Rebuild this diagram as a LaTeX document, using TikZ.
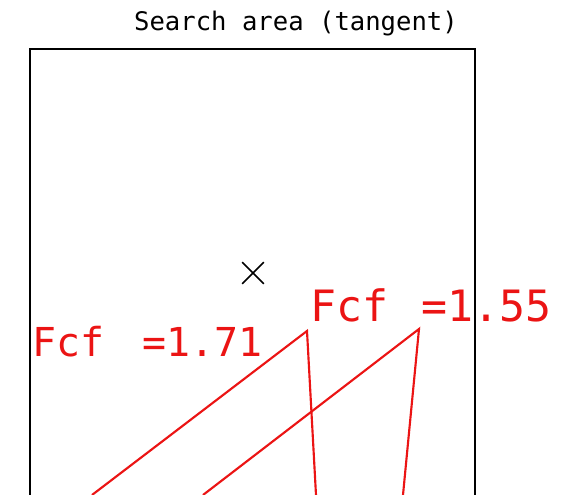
\documentclass[tikz,border=0pt]{standalone}
\usepackage{fontspec}
\newfontfamily\plotfont{DejaVu Sans Mono}
\usetikzlibrary{shapes.misc}
\definecolor{plotred}{RGB}{235,20,20}
\begin{document}
\begin{tikzpicture}[x=0.75pt,y=-0.75pt,
  frame/.style={draw=black,line width=1.5pt},
  fitline/.style={draw=plotred,line width=1.6pt,line join=miter},
  fcflabel/.style={text=plotred,inner sep=0pt,anchor=base west,font=\plotfont},
  titletext/.style={inner sep=0pt,anchor=base,font=\plotfont\fontsize{19.2pt}{21pt}\selectfont},
  marker/.style={cross out,draw=black,line width=1.2pt,minimum size=15pt,inner sep=0pt}]
\useasboundingbox (0,0) rectangle (561,495);
\node[titletext] (title) at (296,31) {Search area (tangent)};
\coordinate (tl) at (30,49);
\coordinate (br) at (475,496);
\draw[frame] (tl) rectangle (br);
\node[marker] (centre) at (253,273) {};
% first candidate
\coordinate (a1) at (92,495);
\coordinate (p1) at (307,331);
\coordinate (b1) at (316,495);
\draw[fitline] (a1) -- (p1) -- (b1);
% second candidate
\coordinate (a2) at (203,495);
\coordinate (p2) at (419,329);
\coordinate (b2) at (403,495);
\draw[fitline] (a2) -- (p2) -- (b2);
\node[fcflabel] (fcf1) at (32,357) {\fontsize{29.9pt}{30pt}\selectfont Fcf\hspace{28.5pt}=1.71};
\node[fcflabel] (fcf2) at (310,322) {\fontsize{32.4pt}{33pt}\selectfont Fcf\hspace{24.75pt}=1.55};
\end{tikzpicture}
\end{document}
